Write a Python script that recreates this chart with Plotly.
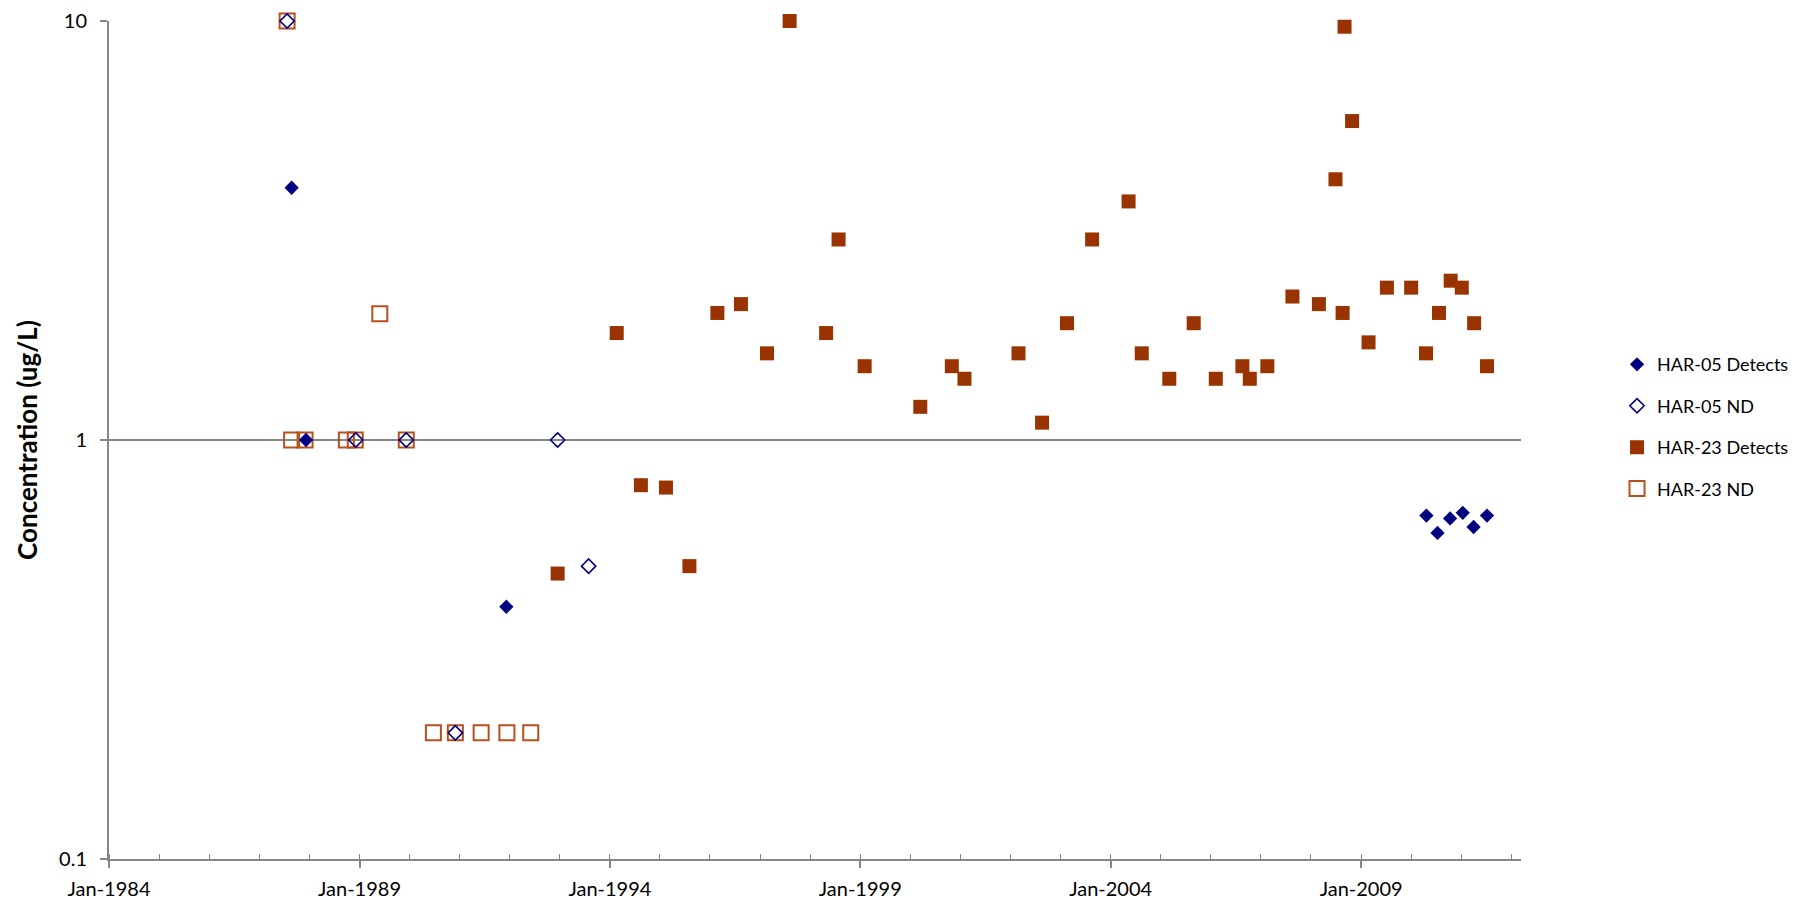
import plotly.graph_objects as go

# HAR-05 detects
har05_det_dates = ['1987-08-25', '1987-12-08', '1991-12-08', '2010-04-22', '2010-07-12',
                   '2010-10-12', '2011-01-12', '2011-04-01', '2011-07-08']
har05_det_vals = [4.0, 1.0, 0.40, 0.66, 0.60, 0.65, 0.67, 0.62, 0.66]

# HAR-05 non-detects
har05_nd_dates = ['1987-07-23', '1988-12-05', '1989-12-08', '1990-12-01', '1992-12-16', '1993-07-30']
har05_nd_vals = [10, 1, 1, 0.2, 1, 0.5]

# HAR-23 detects
har23_det_dates = ['1992-12-16', '1994-02-20', '1994-08-15', '1995-02-14', '1995-08-04',
                   '1996-02-24', '1996-08-14', '1997-02-20', '1997-08-04', '1998-04-27',
                   '1998-07-27', '1999-02-02', '2000-03-14', '2000-10-30', '2001-01-30',
                   '2002-02-28', '2002-08-19', '2003-02-17', '2003-08-19', '2004-05-11',
                   '2004-08-15', '2005-03-04', '2005-08-29', '2006-02-06', '2006-08-19',
                   '2006-10-12', '2007-02-17', '2007-08-19', '2008-02-28', '2008-06-28',
                   '2008-08-19', '2008-09-02', '2008-10-27', '2009-02-24', '2009-07-08',
                   '2010-01-01', '2010-04-19', '2010-07-23', '2010-10-16', '2011-01-05',
                   '2011-04-05', '2011-07-08']
har23_det_vals = [0.48, 1.80, 0.78, 0.77, 0.50,
                  2.01, 2.11, 1.61, 10.0, 1.80,
                  3.01, 1.50, 1.20, 1.50, 1.40,
                  1.61, 1.10, 1.90, 3.01, 3.71,
                  1.61, 1.40, 1.90, 1.40, 1.50,
                  1.40, 1.50, 2.20, 2.11, 4.19,
                  2.01, 9.69, 5.77, 1.71, 2.31,
                  2.31, 1.61, 2.01, 2.40, 2.31,
                  1.90, 1.50]

# HAR-23 non-detects
har23_nd_dates = ['1987-07-23', '1987-08-25', '1987-12-01', '1988-09-27', '1988-12-01',
                  '1989-05-29', '1989-12-08', '1990-06-24', '1990-12-01', '1991-06-07',
                  '1991-12-12', '1992-06-03']
har23_nd_vals = [10, 1, 1, 1, 1, 2, 1, 0.2, 0.2, 0.2, 0.2, 0.2]

y_ticks = [0.1, 1, 10]
y_tick_text = ['0.1', '1', '10']

navy = '#000080'
brown = '#993300'
orange = '#B8501E'
grey = '#868686'

fig = go.Figure()

# draw ND squares first so the filled markers sit on top, legend order fixed by legendrank
fig.add_trace(go.Scatter(x=har23_nd_dates, y=har23_nd_vals, mode='markers', name='HAR-23 ND',
                         legendrank=4, legendgroup='d', cliponaxis=False,
                         marker=dict(symbol='square-open', size=15, color=orange, line=dict(width=2))))
fig.add_trace(go.Scatter(x=har23_det_dates, y=har23_det_vals, mode='markers', name='HAR-23 Detects',
                         legendrank=3, legendgroup='c', cliponaxis=False,
                         marker=dict(symbol='square', size=14, color=brown, line=dict(width=0))))
fig.add_trace(go.Scatter(x=har05_nd_dates, y=har05_nd_vals, mode='markers', name='HAR-05 ND',
                         legendrank=2, legendgroup='b', cliponaxis=False,
                         marker=dict(symbol='diamond-open', size=11, color=navy, line=dict(width=1.6))))
fig.add_trace(go.Scatter(x=har05_det_dates, y=har05_det_vals, mode='markers', name='HAR-05 Detects',
                         legendrank=1, legendgroup='a', cliponaxis=False,
                         marker=dict(symbol='diamond', size=11, color=navy, line=dict(width=0))))

# page body has an 8px margin, so the figure is 8px smaller and margins shifted by 8
fig.update_layout(
    width=1810, height=896,
    margin=dict(l=101, r=297, t=13, b=45, autoexpand=False),
    paper_bgcolor='white', plot_bgcolor='white',
    font=dict(family='Lato', size=20, color='black'),
    showlegend=True,
    legend=dict(x=1.068, xanchor='left', y=0.612, yanchor='top',
                font=dict(size=18), tracegroupgap=15, itemwidth=30,
                traceorder='grouped', bgcolor='rgba(0,0,0,0)'),
    xaxis=dict(type='date', range=['1984-01-01', '2012-03-12'],
               tick0='1984-01-01', dtick='M60', tickformat='%b-%Y',
               ticks='outside', ticklen=7, tickwidth=1.5, tickcolor=grey,
               showline=True, linecolor=grey, linewidth=2, showgrid=False,
               zeroline=False, ticklabelstandoff=4, automargin=False,
               minor=dict(dtick='M12', ticks='inside', ticklen=5, tickwidth=1.2,
                          tickcolor=grey, showgrid=False)),
    yaxis=dict(type='log', range=[-1, 1], tickvals=y_ticks, ticktext=y_tick_text,
               ticks='outside', ticklen=7, tickwidth=1.5, tickcolor=grey,
               showline=True, linecolor=grey, linewidth=2,
               showgrid=True, gridcolor=grey, gridwidth=1.5, zeroline=False,
               ticklabelstandoff=9, automargin=False,
               title=dict(text='<b>Concentration (ug/L)</b>', font=dict(size=26), standoff=14)),
)

fig.write_html('out.html')
